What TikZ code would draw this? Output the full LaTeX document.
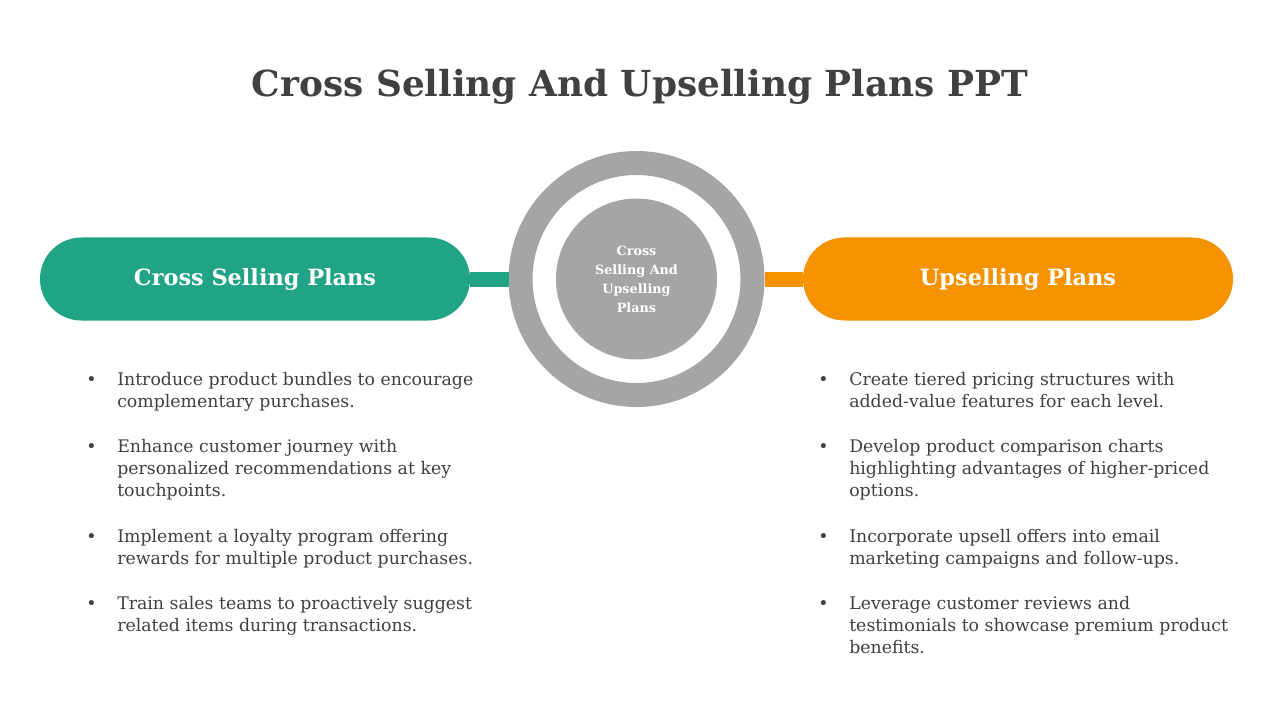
\documentclass[tikz,border=0pt]{standalone}
\usepackage{fontspec}
\setmainfont{DejaVu Serif}
\usepackage{tikz}
\usetikzlibrary{positioning}
\usepackage{xcolor}
\definecolor{crossgreen}{HTML}{21A386}
\definecolor{upsorange}{HTML}{F59200}
\definecolor{ringgray}{HTML}{A5A5A5}
\definecolor{textgray}{HTML}{404040}

\begin{document}
\begin{tikzpicture}[
    x=0.75pt, y=-0.75pt,
    pill/.style={rectangle, rounded corners=31.1pt, minimum width=322.5pt, minimum height=62.25pt, text=white, font=\bfseries\fontsize{16.8}{19}\selectfont},
    ring/.style={circle, draw=ringgray, line width=18pt, fill=white, minimum size=174pt},
    hub/.style={circle, fill=ringgray, minimum size=120.75pt, text=white, align=center, font=\bfseries\fontsize{9.6}{14.25}\selectfont},
    link/.style={line width=11.25pt},
    dot/.style={anchor=base west, inner sep=0pt, text=textgray, font=\fontsize{13}{16.5}\selectfont},
    item/.style={anchor=north west, inner sep=0pt, align=left, text=textgray, font=\fontsize{13}{16.5}\selectfont}
]
    \useasboundingbox[fill=white] (0,0) rectangle (1280,720);

    % Title
    \node[text=textgray, font=\bfseries\fontsize{26.9}{30}\selectfont] (title) at (640,87) {Cross Selling And Upselling Plans PPT};

    % Centre rings
    \node[ring] (ring) at (636.5,279) {};
    \node[hub] (hub) at (636.5,279) {Cross\\Selling And\\Upselling\\Plans};

    % Side pills
    \node[pill, fill=crossgreen] (cross) at (255,279) {Cross Selling Plans};
    \node[pill, fill=upsorange] (ups) at (1018,279) {Upselling Plans};
    \draw[link, crossgreen] (cross.east) -- (ring.west);
    \draw[link, upsorange] (ring.east) -- (ups.west);

    % Cross selling points
    \node[dot] (lb1) at (86,385) {\textbullet};
    \node[item] (l1) at (117,372) {Introduce product bundles to encourage\\complementary purchases.};
    \node[dot] (lb2) at (86,452) {\textbullet};
    \node[item] (l2) at (117,439) {Enhance customer journey with\\personalized recommendations at key\\touchpoints.};
    \node[dot] (lb3) at (86,542) {\textbullet};
    \node[item] (l3) at (117,529) {Implement a loyalty program offering\\rewards for multiple product purchases.};
    \node[dot] (lb4) at (86,609) {\textbullet};
    \node[item] (l4) at (117,596) {Train sales teams to proactively suggest\\related items during transactions.};

    % Upselling points
    \node[dot] (rb1) at (818,385) {\textbullet};
    \node[item] (r1) at (849,372) {Create tiered pricing structures with\\added-value features for each level.};
    \node[dot] (rb2) at (818,452) {\textbullet};
    \node[item] (r2) at (849,439) {Develop product comparison charts\\highlighting advantages of higher-priced\\options.};
    \node[dot] (rb3) at (818,542) {\textbullet};
    \node[item] (r3) at (849,529) {Incorporate upsell offers into email\\marketing campaigns and follow-ups.};
    \node[dot] (rb4) at (818,609) {\textbullet};
    \node[item] (r4) at (849,596) {Leverage customer reviews and\\testimonials to showcase premium product\\benefits.};
\end{tikzpicture}
\end{document}
